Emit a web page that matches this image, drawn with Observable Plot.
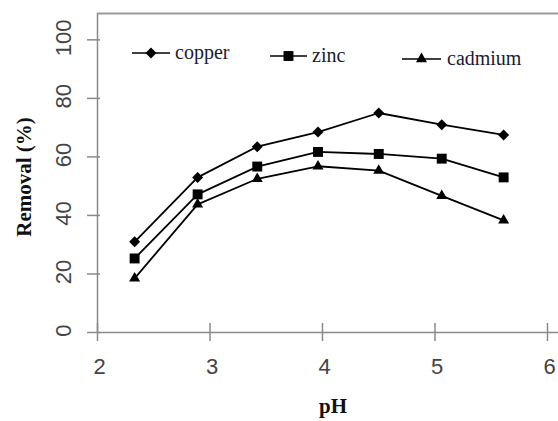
<!DOCTYPE html>
<html>
<head>
<meta charset="utf-8">
<script src="https://cdn.jsdelivr.net/npm/d3@7"></script>
<script src="https://cdn.jsdelivr.net/npm/@observablehq/plot@0.6"></script>
<style>
  html, body { margin: 0; padding: 0; background: #fff; }
  #wrap { position: relative; width: 558px; height: 421px; }
  #wrap svg { position: absolute; left: 0; top: 0; }
</style>
</head>
<body>
<div id="wrap"></div>
<script>
// ---- data ----
const pH = [2.33, 2.89, 3.42, 3.96, 4.5, 5.06, 5.61];
const copper = [31, 53, 63.5, 68.5, 75, 71, 67.5];
const zinc = [25.3, 47.2, 56.7, 61.7, 61, 59.4, 53];
const cadmium = [18.5, 43.8, 52.5, 56.8, 55.3, 46.7, 38.3];
const seriesNames = ["copper", "zinc", "cadmium"];
const xTicks = [2, 3, 4, 5, 6];
const yTicks = [0, 20, 40, 60, 80, 100];
const xTitle = "pH";
const yTitle = "Removal (%)";

const seriesValues = { copper, zinc, cadmium };
const rows = seriesNames.flatMap(s => pH.map((x, i) => ({ series: s, pH: x, value: seriesValues[s][i] })));

const symbolStyle = {
  copper: { symbol: "square", r: 4.4, rotate: 45 },
  zinc: { symbol: "square", r: 5.6, rotate: 0 },
  cadmium: { symbol: "triangle", r: 4.1, rotate: 0 }
};

const axisColor = "#8a8a8a";
const sansFont = "'Liberation Sans', Arial, sans-serif";
const serifFont = "'Liberation Serif', 'Times New Roman', serif";
const W = 558, H = 421;

const marks = [
  Plot.ruleY([109], { stroke: "#9a9a9a", strokeWidth: 2 }),
  Plot.ruleY([0], { stroke: axisColor, strokeWidth: 1.5 }),
  Plot.ruleX([2], { stroke: axisColor, strokeWidth: 1.5 }),
  Plot.axisX({ ticks: xTicks, tickSize: 18, dy: -9, tickFormat: () => "", stroke: axisColor, strokeWidth: 1.5, label: null }),
  Plot.axisY({ ticks: yTicks, tickSize: 13, dx: 3, tickFormat: () => "", stroke: axisColor, strokeWidth: 1.5, label: null }),
  Plot.text(xTicks, { x: d => d, frameAnchor: "bottom", dy: 41, dx: 2, textAnchor: "middle", text: d => String(d), fontSize: 22, fill: "#444", fontFamily: sansFont }),
  Plot.text(yTicks, { y: d => d, frameAnchor: "left", dx: -34, dy: -2, rotate: -90, textAnchor: "middle", text: d => String(d), fontSize: 22, fill: "#444", fontFamily: sansFont }),
  Plot.text([xTitle], { frameAnchor: "bottom", dy: 80, dx: 5, textAnchor: "middle", text: d => d, fontSize: 21, fontWeight: "bold", fill: "#111", fontFamily: serifFont }),
  Plot.text([yTitle], { frameAnchor: "left", dx: -73, dy: 4, rotate: -90, textAnchor: "middle", text: d => d, fontSize: 21, fontWeight: "bold", fill: "#111", fontFamily: serifFont })
];

for (const s of seriesNames) {
  const data = rows.filter(d => d.series === s);
  marks.push(Plot.line(data, { x: "pH", y: "value", stroke: "#000", strokeWidth: 1.8 }));
  marks.push(Plot.dot(data, { x: "pH", y: "value", symbol: () => symbolStyle[s].symbol, r: symbolStyle[s].r, rotate: symbolStyle[s].rotate, fill: "#000", stroke: "none" }));
}

const chart = Plot.plot({
  width: W,
  height: H,
  marginLeft: 97,
  marginRight: 0,
  marginTop: 13,
  marginBottom: 89,
  x: { domain: [2, 6 + 11 / 112.5], axis: null },
  y: { domain: [0, 109], axis: null },
  symbol: { type: "identity" },
  style: { background: "#fff", overflow: "visible" },
  marks
});
document.getElementById("wrap").appendChild(chart);

// ---- legend (inside plot area, top) ----
const legendItems = [
  { name: "copper", x1: 132, x2: 170, y: 53, tx: 175 },
  { name: "zinc", x1: 270, x2: 307, y: 56, tx: 312 },
  { name: "cadmium", x1: 402, x2: 441, y: 59, tx: 447 }
];
const lg = d3.select("#wrap").append("svg").attr("width", W).attr("height", H).style("pointer-events", "none");
for (const it of legendItems) {
  const st = symbolStyle[it.name];
  const g = lg.append("g");
  g.append("line").attr("x1", it.x1).attr("x2", it.x2).attr("y1", it.y).attr("y2", it.y).attr("stroke", "#000").attr("stroke-width", 1.7);
  const sym = st.symbol === "triangle" ? d3.symbolTriangle : d3.symbolSquare;
  g.append("path")
    .attr("d", d3.symbol(sym, st.r * st.r * Math.PI)())
    .attr("transform", `translate(${(it.x1 + it.x2) / 2},${it.y}) rotate(${st.rotate})`)
    .attr("fill", "#000");
  g.append("text").attr("x", it.tx).attr("y", it.y).attr("dy", "0.32em")
    .style("font-family", serifFont).style("font-size", "20px").attr("fill", "#1a1a33")
    .text(it.name);
}
</script>
</body>
</html>
